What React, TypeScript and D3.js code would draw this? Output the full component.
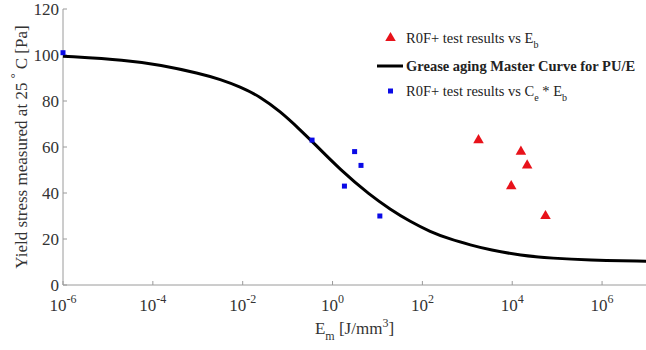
import * as d3 from "d3";
import React from "react";

// master curve (energy in J/mm^3, stress in Pa)
const curveEnergy = [
  1e-6, 2.6e-5, 1.45e-4, 1.1e-3, 3.2e-3, 8.7e-3, 0.0245, 0.068, 0.19, 0.37, 1.5, 6.9, 19, 54, 148, 417, 1175,
  3236, 15100, 81300, 457000, 1e7,
];
const curveStress = [
  99.5, 97.8, 95.7, 92.0, 89.4, 86.2, 81.9, 75.5, 67.5, 62, 50, 39, 33, 27.5, 23.2, 19.9, 17.4, 15.2, 12.9, 11.6,
  10.8, 10.3,
];

// R0F+ results vs Ce*Eb (blue squares)
const blueEnergy = [1e-6, 0.35, 3.1, 4.3, 1.84, 11.3];
const blueStress = [101, 63, 58, 52, 43, 30];

// R0F+ results vs Eb (red triangles)
const redEnergy = [1775, 15600, 21500, 9500, 55000];
const redStress = [63, 58, 52, 43, 30];

const xTickExponents = [-6, -4, -2, 0, 2, 4, 6];
const yTicks = [0, 20, 40, 60, 80, 100, 120];

const font = "'Liberation Serif', 'Times New Roman', serif";

export default function App() {
  const width = 646;
  const height = 350;
  const margin = { top: 9, right: -1, bottom: 65, left: 63 };

  const x = d3
    .scaleLog()
    .domain([1e-6, 1e7])
    .range([margin.left, width - margin.right]);
  const y = d3
    .scaleLinear()
    .domain([0, 120])
    .range([height - margin.bottom, margin.top]);

  const line = d3
    .line<number>()
    .x((d, i) => x(curveEnergy[i]))
    .y((d) => y(d))
    .curve(d3.curveBasis);

  const tri = d3.symbol(d3.symbolTriangle, 48)();
  const axisColor = "#9a9a9a";
  const textColor = "#333";
  const x0 = x(1e-6);
  const yBase = y(0);

  return (
    <div style={{ position: "absolute", left: 0, top: 0 }}>
      <svg width={width} height={height} style={{ display: "block", background: "#fff" }} fontFamily={font}>
        {/* axes */}
        <line x1={x0} x2={width} y1={yBase} y2={yBase} stroke={axisColor} />
        <line x1={x0} x2={x0} y1={yBase} y2={y(120)} stroke={axisColor} />

        {/* y ticks */}
        {yTicks.map((t) => (
          <g key={"y" + t}>
            <line x1={x0} x2={x0 + 4} y1={y(t)} y2={y(t)} stroke={axisColor} />
            <text x={x0 - 4} y={y(t)} dy="0.33em" textAnchor="end" fontSize={17} fill={textColor}>
              {t}
            </text>
          </g>
        ))}

        {/* x ticks */}
        {xTickExponents.map((e) => (
          <g key={"x" + e}>
            <line x1={x(10 ** e)} x2={x(10 ** e)} y1={yBase} y2={yBase - 4} stroke={axisColor} />
            <text x={x(10 ** e)} y={yBase + 26} textAnchor="middle" fontSize={17} fill={textColor}>
              10<tspan fontSize={12} dy={-8}>{e}</tspan>
            </text>
          </g>
        ))}

        {/* axis titles */}
        <text x={(x0 + width) / 2} y={yBase + 49} textAnchor="middle" fontSize={17} fill={textColor}>
          E<tspan fontSize={12} dy={6}>m</tspan>
          <tspan dy={-6}> [J/mm</tspan>
          <tspan fontSize={12} dy={-7}>3</tspan>
          <tspan dy={7}>]</tspan>
        </text>
        <text
          transform={`translate(27,${(yBase + y(120)) / 2}) rotate(-90)`}
          textAnchor="middle"
          fontSize={17}
          fill={textColor}
        >
          Yield stress measured at 25 <tspan fontSize={12} dy={-8}>°</tspan>
          <tspan dy={8}> C [Pa]</tspan>
        </text>

        {/* master curve */}
        <path d={line(curveStress) ?? ""} fill="none" stroke="#000" strokeWidth={3} />

        {/* blue squares */}
        {blueEnergy.map((e, i) => (
          <rect key={"b" + i} x={x(e) - 2.5} y={y(blueStress[i]) - 2.5} width={5} height={5} fill="#0a0ae6" />
        ))}

        {/* red triangles */}
        {redEnergy.map((e, i) => (
          <path key={"r" + i} d={tri ?? ""} transform={`translate(${x(e)},${y(redStress[i])})`} fill="#e8121a" />
        ))}

        {/* legend */}
        <g fontSize={14.5} fill="#222">
          <path d={tri ?? ""} transform="translate(390.5,38)" fill="#e8121a" />
          <text x={406} y={43}>
            R0F+ test results vs E<tspan fontSize={10} dy={5}>b</tspan>
          </text>
          <line x1={377} x2={403} y1={66} y2={66} stroke="#000" strokeWidth={3} />
          <text x={406} y={71} fontWeight="bold">
            Grease aging Master Curve for PU/E
          </text>
          <rect x={388} y={88.5} width={5} height={5} fill="#0a0ae6" />
          <text x={406} y={96}>
            R0F+ test results vs C<tspan fontSize={10} dy={5}>e</tspan>
            <tspan dy={-5}> * E</tspan>
            <tspan fontSize={10} dy={5}>b</tspan>
          </text>
        </g>
      </svg>
    </div>
  );
}
